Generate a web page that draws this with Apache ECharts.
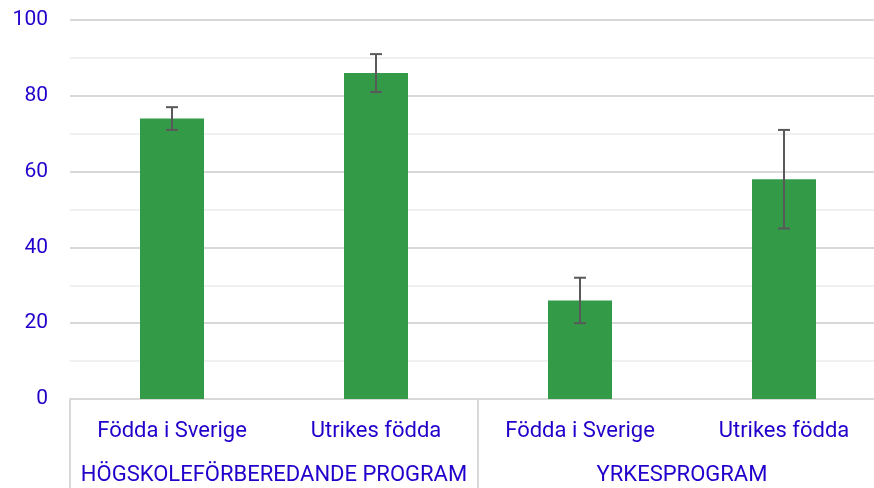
<!DOCTYPE html>
<html>
<head>
<meta charset="utf-8">
<script src="https://cdn.jsdelivr.net/npm/echarts@6/dist/echarts.min.js"></script>
<style>
    html, body { margin: 0; padding: 0; background: #fff; }
    #chart { width: 874px; height: 488px; }
</style>
</head>
<body>
<div id="chart"></div>
<script>
var categories = ['Födda i Sverige', 'Utrikes födda', 'Födda i Sverige', 'Utrikes födda'];
var groups = ['HÖGSKOLEFÖRBEREDANDE PROGRAM', 'YRKESPROGRAM'];
var values = [74, 86, 26, 58];
var errLow = [71, 81, 20, 45];
var errHigh = [77, 91, 32, 71];

var textColor = '#2200cc';
var chart = echarts.init(document.getElementById('chart'));

var errData = values.map(function (v, i) {
    return [i, errLow[i], errHigh[i]];
});

var option = {
    animation: false,
    grid: { left: 70, top: 20, width: 816, bottom: 89, containLabel: false, outerBoundsMode: 'none' },
    xAxis: [
        {
            type: 'category',
            data: categories,
            axisLine: { show: true, lineStyle: { color: '#d9d9d9', width: 2 } },
            axisTick: {
                show: true,
                length: 89,
                interval: function (index) { return index % 2 === 0; },
                lineStyle: { color: '#d9d9d9', width: 2 }
            },
            axisLabel: { color: textColor, fontSize: 22, fontFamily: 'Roboto', margin: 21, interval: 0 }
        },
        {
            type: 'category',
            position: 'bottom',
            data: groups,
            axisLine: { show: false },
            axisTick: { show: false },
            axisLabel: { color: textColor, fontSize: 22, fontFamily: 'Roboto', margin: 65, interval: 0 }
        }
    ],
    yAxis: {
        type: 'value',
        min: 0,
        max: 100,
        interval: 20,
        axisLine: { show: false },
        axisTick: { show: false },
        axisLabel: { color: textColor, fontSize: 21, fontFamily: 'Roboto', margin: 22 },
        splitLine: { lineStyle: { color: '#d9d9d9', width: 2 } },
        minorTick: { show: false, splitNumber: 2 },
        minorSplitLine: { show: true, lineStyle: { color: '#f0f0f0', width: 2 } }
    },
    series: [
        {
            type: 'bar',
            data: values,
            barWidth: 64,
            itemStyle: { color: '#339a48' }
        },
        {
            type: 'custom',
            data: errData,
            z: 10,
            renderItem: function (params, api) {
                var x = api.value(0);
                var lo = api.coord([x, api.value(1)]);
                var hi = api.coord([x, api.value(2)]);
                var cap = 6;
                var style = { stroke: '#595959', lineWidth: 2 };
                return {
                    type: 'group',
                    children: [
                        { type: 'line', shape: { x1: lo[0], y1: lo[1], x2: hi[0], y2: hi[1] }, style: style },
                        { type: 'line', shape: { x1: lo[0] - cap, y1: lo[1], x2: lo[0] + cap, y2: lo[1] }, style: style },
                        { type: 'line', shape: { x1: hi[0] - cap, y1: hi[1], x2: hi[0] + cap, y2: hi[1] }, style: style }
                    ]
                };
            }
        }
    ]
};
chart.setOption(option);
</script>
</body>
</html>
